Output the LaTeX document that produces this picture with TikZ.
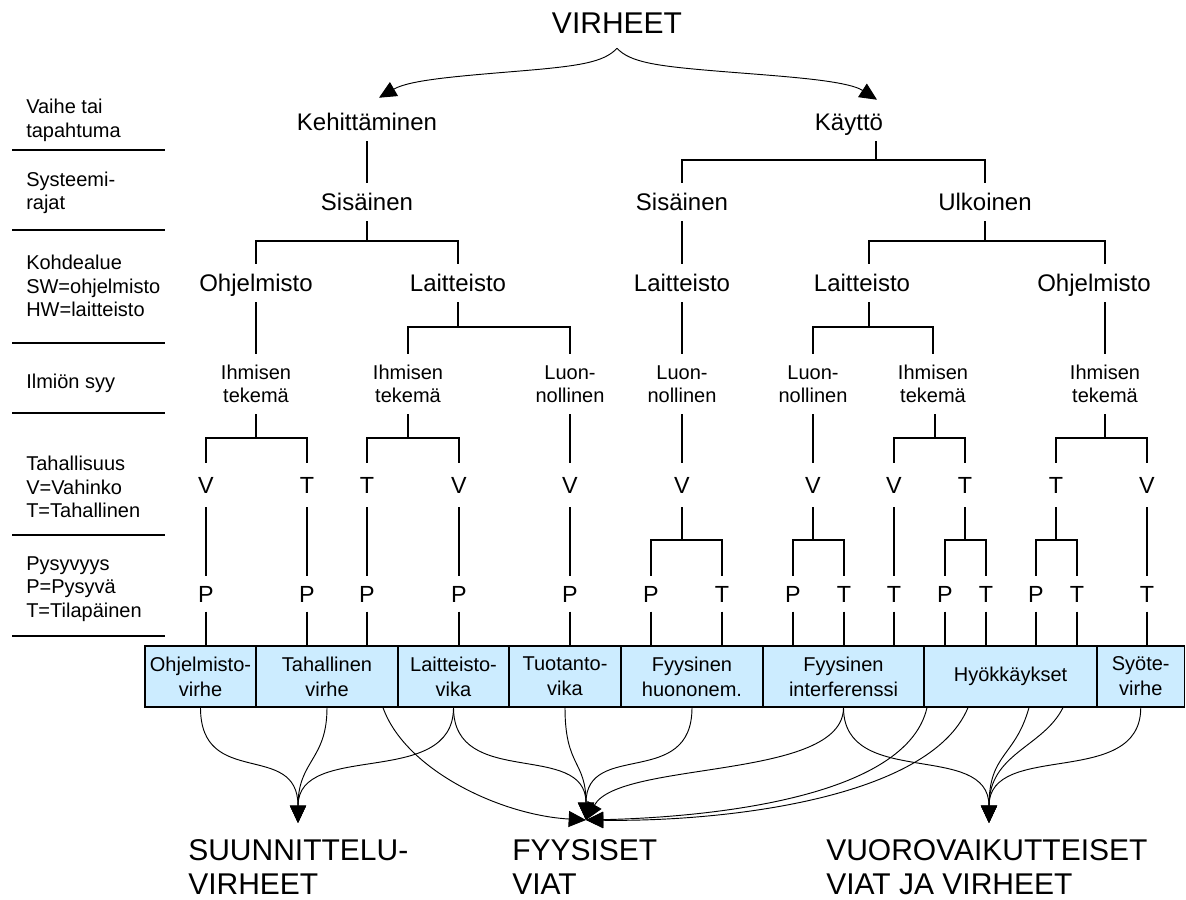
\documentclass[tikz,border=0pt]{standalone}
\usepackage{fontspec}
\setmainfont{Liberation Sans}
\usetikzlibrary{arrows.meta,calc}
\definecolor{boxblue}{RGB}{204,236,255}
\begin{document}
\begin{tikzpicture}[x=0.75pt,y=-0.75pt,
  lbl/.style={font=\fontsize{15}{17.6}\selectfont, align=left, anchor=west, inner sep=0pt},
  title/.style={font=\fontsize{22.5}{25.5}\selectfont, inner sep=0pt, text height=16.1pt, text depth=0pt, minimum height=37.5pt},
  lvl/.style={font=\fontsize{18}{21}\selectfont, inner sep=0pt, text height=12.9pt, text depth=0pt, minimum height=28.5pt},
  cause/.style={font=\fontsize{15}{17.25}\selectfont, align=center, inner sep=0pt, minimum height=45pt},
  letter/.style={font=\fontsize{17.5}{19}\selectfont, inner sep=0pt, text height=12.5pt, text depth=0pt, minimum height=33pt},
  letterp/.style={letter, minimum height=26pt},
  errbox/.style={draw, fill=boxblue, line width=0.9pt, inner sep=0pt, minimum height=45.75pt,
                 font=\fontsize{15}{18.75}\selectfont, align=center},
  big/.style={font=\fontsize{22.5}{25.5}\selectfont, align=left, anchor=west, inner sep=0pt},
  link/.style={line width=0.8pt},
  flow/.style={line width=0.7pt, -{Triangle[length=13pt,width=12pt]}},
]
\useasboundingbox (0,0) rectangle (1186,900);

% ---- left column: level descriptions and separators
\node[lbl] (d1) at (26,120.5) {Vaihe tai\\tapahtuma};
\node[lbl] (d2) at (26,193) {Systeemi-\\rajat};
\node[lbl] (d3) at (26,286) {Kohdealue\\SW=ohjelmisto\\HW=laitteisto};
\node[lbl] (d4) at (26,383) {Ilmiön syy};
\node[lbl] (d5) at (26,487) {Tahallisuus\\V=Vahinko\\T=Tahallinen};
\node[lbl] (d6) at (26,589) {Pysyvyys\\P=Pysyvä\\T=Tilapäinen};
\foreach \yy in {150,230,343,413,535,636}
  \draw[line width=0.8pt] (12,\yy) -- (165,\yy);

% ---- tree
\node[title] (virheet) at (617,23) {VIRHEET};
\node[lvl] (keh) at (367,122) {Kehittäminen};
\node[lvl] (kay) at (849,122) {Käyttö};
\node[lvl] (sis1) at (367,202) {Sisäinen};
\node[lvl] (sis2) at (682,202) {Sisäinen};
\node[lvl] (ulk) at (985,202) {Ulkoinen};
\node[lvl] (ohj1) at (256,283) {Ohjelmisto};
\node[lvl] (lai1) at (458,283) {Laitteisto};
\node[lvl] (lai2) at (682,283) {Laitteisto};
\node[lvl] (lai3) at (862,283) {Laitteisto};
\node[lvl] (ohj2) at (1094,283) {Ohjelmisto};

\node[cause] (ihm1) at (256,384) {Ihmisen\\tekemä};
\node[cause] (ihm2) at (408,384) {Ihmisen\\tekemä};
\node[cause] (luo1) at (570,384) {Luon-\\nollinen};
\node[cause] (luo2) at (682,384) {Luon-\\nollinen};
\node[cause] (luo3) at (813,384) {Luon-\\nollinen};
\node[cause] (ihm3) at (933,384) {Ihmisen\\tekemä};
\node[cause] (ihm4) at (1105,384) {Ihmisen\\tekemä};

% intent row
\node[letter] (a1) at (206,485) {V};
\node[letter] (a2) at (307,485) {T};
\node[letter] (a3) at (367,485) {T};
\node[letter] (a4) at (459,485) {V};
\node[letter] (a5) at (570,485) {V};
\node[letter] (a6) at (682,485) {V};
\node[letter] (a7) at (813,485) {V};
\node[letter] (a8) at (894,485) {V};
\node[letter] (a9) at (965,485) {T};
\node[letter] (a10) at (1056,485) {T};
\node[letter] (a11) at (1147,485) {V};

% persistence row
\node[letterp] (p1) at (206,594) {P};
\node[letterp] (p2) at (307,594) {P};
\node[letterp] (p3) at (367,594) {P};
\node[letterp] (p4) at (459,594) {P};
\node[letterp] (p5) at (570,594) {P};
\node[letterp] (p6) at (651,594) {P};
\node[letterp] (p7) at (722,594) {T};
\node[letterp] (p8) at (793,594) {P};
\node[letterp] (p9) at (844,594) {T};
\node[letterp] (p10) at (894,594) {T};
\node[letterp] (p11) at (945,594) {P};
\node[letterp] (p12) at (986,594) {T};
\node[letterp] (p13) at (1036,594) {P};
\node[letterp] (p14) at (1077,594) {T};
\node[letterp] (p15) at (1147,594) {T};

% fault classes
\node[errbox, minimum width=83.25pt] (b1) at (200.5,676.5) {Ohjelmisto-\\virhe};
\node[errbox, minimum width=106.5pt] (b2) at (327,676.5) {Tahallinen\\virhe};
\node[errbox, minimum width=83.25pt] (b3) at (453.5,676.5) {Laitteisto-\\vika};
\node[errbox, minimum width=84pt] (b4) at (565,676.5) {Tuotanto-\\vika};
\node[errbox, minimum width=106.5pt] (b5) at (692,676.5) {Fyysinen\\huononem.};
\node[errbox, minimum width=120.75pt] (b6) at (843.5,676.5) {Fyysinen\\interferenssi};
\node[errbox, minimum width=129.75pt] (b7) at (1010.5,676.5) {Hyökkäykset};
\node[errbox, minimum width=65.6pt] (b8) at (1140.75,676.5) {Syöte-\\virhe};

% groups
\node[big] (suun) at (188,867) {SUUNNITTELU-\\VIRHEET};
\node[big] (fyys) at (512,867) {FYYSISET\\VIAT};
\node[big] (vuor) at (826,867) {VUOROVAIKUTTEISET\\VIAT JA VIRHEET};
\coordinate (sTip) at (298,823);
\coordinate (fTip) at (586,820);
\coordinate (vTip) at (989,823);

% junctions of the brackets
\coordinate (kj) at (876,160);
\coordinate (js1) at (367,241);
\coordinate (ju) at (985,241);
\coordinate (jl1) at (458,327);
\coordinate (jl3) at (869,327);
\coordinate (ji1) at (256,438);
\coordinate (ji2) at (408,438);
\coordinate (ji3) at (935,438);
\coordinate (ji4) at (1105,438);
\coordinate (jv1) at (682,540);
\coordinate (jv2) at (813,540);
\coordinate (jt1) at (965,540);
\coordinate (jt2) at (1056,540);

% ---- top split
\draw[flow] (virheet.south) .. controls +(-13,14) and +(60,-5) .. (520,71)
  .. controls +(-60,5) and +(31,-18) .. ($(keh.north)+(12,-5)$);
\draw[flow] (virheet.south) .. controls +(13,14) and +(-60,-5) .. (716,71)
  .. controls +(60,5) and +(-31,-20) .. ($(kay.north)+(28,-3)$);

% ---- tree connectors
\draw[link] (keh) -- (sis1);
\draw[link] (kay.south -| kj) -- (kj) -| (sis2.north);
\draw[link] (kj) -| (ulk.north);
\draw[link] (sis1.south) -- (js1) -| (ohj1.north);
\draw[link] (js1) -| (lai1.north);
\draw[link] (sis2) -- (lai2);
\draw[link] (ulk.south) -- (ju) -| (jl3 |- lai3.north);
\draw[link] (ju) -| (ihm4 |- ohj2.north);

\draw[link] (ohj1) -- (ihm1);
\draw[link] (lai1.south) -- (jl1) -| (ihm2.north);
\draw[link] (jl1) -| (luo1.north);
\draw[link] (lai2) -- (luo2);
\draw[link] (jl3 |- lai3.south) -- (jl3) -| (luo3.north);
\draw[link] (jl3) -| (ihm3.north);
\draw[link] (ihm4 |- ohj2.south) -- (ihm4.north);

\draw[link] (ihm1.south) -- (ji1) -| (a1.north);
\draw[link] (ji1) -| (a2.north);
\draw[link] (ihm2.south) -- (ji2) -| (a3.north);
\draw[link] (ji2) -| (a4.north);
\draw[link] (luo1) -- (a5);
\draw[link] (luo2) -- (a6);
\draw[link] (luo3) -- (a7);
\draw[link] (ihm3.south -| ji3) -- (ji3) -| (a8.north);
\draw[link] (ji3) -| (a9.north);
\draw[link] (ihm4.south) -- (ji4) -| (a10.north);
\draw[link] (ji4) -| (a11.north);

\draw[link] (a1) -- (p1);
\draw[link] (a2) -- (p2);
\draw[link] (a3) -- (p3);
\draw[link] (a4) -- (p4);
\draw[link] (a5) -- (p5);
\draw[link] (a6.south) -- (jv1) -| (p6.north);
\draw[link] (jv1) -| (p7.north);
\draw[link] (a7.south) -- (jv2) -| (p8.north);
\draw[link] (jv2) -| (p9.north);
\draw[link] (a8) -- (p10);
\draw[link] (a9.south) -- (jt1) -| (p11.north);
\draw[link] (jt1) -| (p12.north);
\draw[link] (a10.south) -- (jt2) -| (p13.north);
\draw[link] (jt2) -| (p14.north);
\draw[link] (a11) -- (p15);

% persistence to fault classes
\foreach \p/\b in {p1/b1,p2/b2,p3/b2,p4/b3,p5/b4,p6/b5,p7/b5,p8/b6,p9/b6,p10/b6,p11/b7,p12/b7,p13/b7,p14/b7,p15/b8}
  \draw[link] (\p.south) -- (\p.south |- \b.north);

% ---- fault classes to groups
\draw[flow] (b1.south) .. controls +(0,82) and +(0,-83) .. (sTip);
\draw[flow] (b2.south) .. controls +(0,53) and +(0,-63) .. (sTip);
\draw[flow] (b3.south) .. controls +(0,82) and +(0,-83) .. (sTip);

\draw[flow] ($(b2.south)+(56,0)$) .. controls +(22,62) and +(-86,-5) .. (fTip);
\draw[flow] (b3.south) .. controls +(0,82) and +(0,-80) .. (fTip);
\draw[flow] (b4.south) .. controls +(0,60) and +(0,-60) .. (fTip);
\draw[flow] (b5.south) .. controls +(0,82) and +(0,-80) .. (fTip);
\draw[flow] (b6.south) .. controls +(0,73) and +(34,-60) .. (fTip);
\draw[flow] ($(b7.south)+(-83.5,0)$) .. controls +(-22,97) and +(94,-2) .. (fTip);
\draw[flow] ($(b7.south)+(-42.5,0)$) .. controls +(-38,92) and +(134,2) .. (fTip);

\draw[flow] (b6.south) .. controls +(0,82) and +(0,-83) .. (vTip);
\draw[flow] ($(b7.south)+(18.5,0)$) .. controls +(-14,50) and +(0,-70) .. (vTip);
\draw[flow] ($(b7.south)+(52.5,0)$) .. controls +(-20,40) and +(0,-70) .. (vTip);
\draw[flow] (b8.south) .. controls +(0,82) and +(0,-83) .. (vTip);
\end{tikzpicture}
\end{document}
